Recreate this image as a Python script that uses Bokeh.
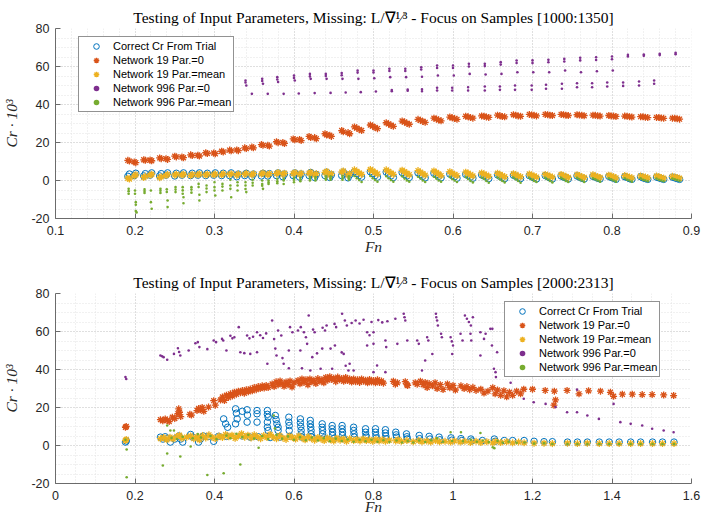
import numpy as np
from bokeh.plotting import figure
from bokeh.layouts import column
from bokeh.models import (FixedTicker, CustomJSTickFormatter, Legend, LegendItem, Range1d, Title)
from bokeh.embed import file_html
from bokeh.resources import INLINE

# MATLAB default line colours
BLUE, ORANGE, YELLOW, PURPLE, GREEN = "#0072BD", "#D95319", "#EDB120", "#7E2F8E", "#77AC30"

SERIES_NAMES = ["Correct Cr From Trial", "Network 19 Par.=0", "Network 19 Par.=mean",
                "Network 996 Par.=0", "Network 996 Par.=mean"]

# ---------------- upper panel: samples 1000:1350 ----------------
top_fn = [
    0.191, 0.193, 0.199, 0.201, 0.211, 0.213, 0.219, 0.221, 0.231, 0.233, 0.239, 0.241,
    0.250, 0.252, 0.259, 0.261, 0.270, 0.272, 0.279, 0.281, 0.289, 0.291, 0.299, 0.301,
    0.309, 0.311, 0.319, 0.321, 0.328, 0.330, 0.338, 0.340, 0.347, 0.349, 0.359, 0.361,
    0.367, 0.369, 0.378, 0.380, 0.386, 0.388, 0.399, 0.401, 0.407, 0.409, 0.419, 0.421,
    0.426, 0.428, 0.439, 0.441, 0.445, 0.447, 0.460, 0.462, 0.468, 0.470,
    0.476, 0.479, 0.482, 0.485, 0.496, 0.499, 0.502, 0.505, 0.516, 0.519, 0.522, 0.525,
    0.536, 0.539, 0.542, 0.545, 0.556, 0.559, 0.562, 0.565, 0.576, 0.579, 0.582, 0.585,
    0.596, 0.599, 0.602, 0.605, 0.616, 0.619, 0.622, 0.625, 0.636, 0.639, 0.642, 0.645,
    0.656, 0.659, 0.662, 0.665, 0.676, 0.679, 0.682, 0.685, 0.696, 0.699, 0.702, 0.705,
    0.716, 0.719, 0.722, 0.725, 0.736, 0.739, 0.742, 0.745, 0.756, 0.759, 0.762, 0.765,
    0.776, 0.779, 0.782, 0.785, 0.796, 0.799, 0.802, 0.805, 0.816, 0.819, 0.822, 0.825,
    0.836, 0.839, 0.842, 0.845, 0.856, 0.859, 0.862, 0.865, 0.876, 0.879, 0.882, 0.885,
]
top_trial = [
    2.2, 3.4, 2.6, 3.8, 2.4, 3.6, 2.8, 4.0, 2.4, 3.6, 2.8, 4.0,
    2.4, 3.8, 2.8, 4.0, 2.6, 3.8, 2.8, 4.0, 2.6, 3.8, 2.8, 4.0,
    2.6, 3.8, 2.6, 4.0, 2.0, 3.4, 2.6, 3.8, 2.0, 3.4, 2.4, 3.8,
    2.4, 3.6, 2.6, 4.0, 2.0, 3.4, 2.6, 4.0, 1.8, 3.4, 2.6, 4.2,
    1.6, 3.2, 2.6, 4.4, 1.6, 3.0, 2.6, 4.4, 1.4, 3.0,
    4.6, 3.6, 2.6, 1.8, 4.6, 3.6, 2.6, 1.8, 4.4, 3.4, 2.4, 1.6,
    4.2, 3.2, 2.4, 1.6, 4.0, 3.2, 2.2, 1.4, 3.8, 3.0, 2.2, 1.4,
    3.4, 2.6, 2.0, 1.2, 3.2, 2.6, 1.8, 1.2, 3.0, 2.4, 1.8, 1.0,
    3.0, 2.2, 1.6, 1.0, 2.8, 2.2, 1.6, 1.0, 2.6, 2.0, 1.4, 0.8,
    2.6, 2.0, 1.4, 0.8, 2.4, 1.8, 1.4, 0.8, 2.4, 1.8, 1.2, 0.8,
    2.2, 1.8, 1.2, 0.8, 2.2, 1.6, 1.2, 0.6, 2.0, 1.6, 1.0, 0.6,
    2.0, 1.4, 1.0, 0.6, 1.8, 1.4, 1.0, 0.6, 1.8, 1.4, 1.0, 0.6,
]
top_n19_zero = [
    10.6, 10.2, 9.8, 9.4, 10.9, 10.6, 10.8, 10.4, 11.9, 11.5, 11.5, 11.1,
    12.8, 12.4, 12.4, 12.0, 13.5, 13.1, 13.3, 12.9, 14.6, 14.2, 14.5, 14.1,
    15.4, 15.0, 16.0, 15.6, 16.1, 15.7, 17.2, 16.8, 17.6, 17.2, 18.9, 18.5,
    18.5, 18.1, 20.4, 19.9, 20.0, 19.5, 21.9, 21.4, 21.6, 21.0, 23.2, 22.6,
    22.6, 22.0, 24.6, 24.0, 23.8, 23.2, 26.3, 25.6, 25.2, 24.6,
    28.2, 27.6, 26.9, 26.3, 29.2, 28.6, 27.9, 27.3, 30.4, 29.8, 29.1, 28.5,
    31.3, 30.8, 30.1, 29.6, 32.2, 31.7, 31.1, 30.6, 32.8, 32.4, 31.8, 31.4,
    33.4, 33.0, 32.6, 32.2, 33.8, 33.5, 33.1, 32.8, 34.0, 33.8, 33.4, 33.2,
    34.4, 34.1, 33.7, 33.5, 34.6, 34.4, 34.0, 33.8, 34.8, 34.5, 34.3, 34.0,
    34.8, 34.6, 34.4, 34.2, 34.8, 34.6, 34.4, 34.2, 34.6, 34.5, 34.3, 34.1,
    34.4, 34.3, 34.1, 33.9, 34.2, 34.0, 33.9, 33.7, 33.9, 33.8, 33.6, 33.4,
    33.6, 33.5, 33.3, 33.1, 33.2, 33.1, 32.9, 32.7, 32.8, 32.7, 32.5, 32.3,
]
top_n19_mean = [
    1.2, 0.8, 2.4, 3.0, 1.6, 2.2, 2.8, 3.3, 1.5, 2.0, 2.6, 3.2,
    2.8, 3.3, 2.9, 3.3, 2.6, 3.2, 3.0, 3.4, 2.9, 3.3, 3.0, 3.4,
    3.0, 3.6, 3.2, 3.6, 2.8, 3.4, 3.2, 3.8, 3.0, 3.6, 3.4, 4.0,
    3.0, 3.6, 3.6, 4.2, 3.2, 3.8, 3.6, 4.2, 3.2, 3.8, 3.8, 4.4,
    2.8, 3.6, 4.2, 4.8, 2.8, 3.6, 4.4, 5.0, 2.8, 3.6,
    5.6, 4.8, 4.0, 3.2, 5.8, 5.0, 4.2, 3.4, 5.6, 4.8, 4.0, 3.2,
    5.4, 4.6, 3.8, 3.0, 5.2, 4.4, 3.6, 2.8, 5.0, 4.2, 3.4, 2.6,
    4.6, 3.8, 3.2, 2.6, 4.4, 3.8, 3.0, 2.4, 4.0, 3.4, 2.8, 2.2,
    3.8, 3.2, 2.6, 2.0, 3.6, 3.0, 2.4, 2.0, 3.4, 2.8, 2.4, 1.8,
    3.2, 2.8, 2.2, 1.8, 3.2, 2.6, 2.2, 1.6, 3.0, 2.6, 2.0, 1.6,
    3.0, 2.4, 2.0, 1.6, 2.8, 2.4, 2.0, 1.4, 2.6, 2.2, 1.8, 1.4,
    2.4, 2.0, 1.8, 1.4, 2.4, 2.0, 1.6, 1.2, 2.2, 1.8, 1.6, 1.2,
]
top_n996_zero = [
    (0.339, 52.6), (0.339, 51.6), (0.340, 50.0), (0.360, 53.5), (0.360, 52.4), (0.361, 50.9),
    (0.379, 54.4), (0.379, 53.2), (0.380, 51.8), (0.400, 55.3), (0.400, 54.0), (0.401, 52.6),
    (0.420, 56.1), (0.420, 54.8), (0.421, 53.5), (0.440, 56.1), (0.440, 55.0), (0.441, 53.5),
    (0.460, 56.6), (0.460, 55.4), (0.461, 53.5), (0.480, 57.9), (0.480, 56.8), (0.481, 53.5),
    (0.500, 57.9), (0.500, 56.8), (0.501, 53.8), (0.520, 58.8), (0.520, 57.6), (0.521, 54.4),
    (0.540, 58.8), (0.540, 57.6), (0.541, 54.4), (0.560, 59.6), (0.560, 58.4), (0.561, 54.6),
    (0.580, 60.5), (0.580, 59.2), (0.581, 55.3), (0.600, 60.5), (0.600, 59.2), (0.601, 55.3),
    (0.620, 61.4), (0.620, 60.0), (0.621, 56.1), (0.640, 61.4), (0.640, 60.2), (0.641, 55.8),
    (0.660, 62.3), (0.660, 61.0), (0.661, 56.1), (0.680, 63.2), (0.680, 61.8), (0.681, 57.0),
    (0.700, 63.2), (0.700, 61.8), (0.701, 57.0), (0.720, 63.5), (0.720, 62.2), (0.721, 57.0),
    (0.740, 64.0), (0.740, 62.6), (0.741, 57.9), (0.760, 64.6), (0.760, 63.2), (0.761, 57.0),
    (0.780, 64.9), (0.780, 63.4), (0.781, 57.5), (0.800, 65.3), (0.800, 63.8), (0.801, 57.9),
    (0.820, 66.1), (0.820, 65.3), (0.840, 66.3), (0.840, 65.6), (0.860, 66.7), (0.860, 66.0),
    (0.880, 67.2), (0.880, 66.5),
    (0.347, 45.6), (0.367, 45.6), (0.387, 45.6), (0.406, 45.8), (0.426, 46.0), (0.446, 46.1),
    (0.465, 46.3), (0.484, 46.5), (0.503, 46.8), (0.523, 47.0), (0.523, 47.6), (0.543, 47.2),
    (0.543, 47.9), (0.561, 47.0), (0.561, 48.0), (0.580, 47.4), (0.580, 48.8), (0.599, 47.4),
    (0.599, 48.8), (0.619, 47.4), (0.619, 49.1), (0.640, 47.4), (0.640, 49.5), (0.659, 47.7),
    (0.659, 49.5), (0.678, 47.7), (0.678, 50.0), (0.699, 47.7), (0.699, 50.0), (0.717, 48.3),
    (0.717, 50.4), (0.737, 48.3), (0.737, 50.9), (0.756, 49.1), (0.756, 51.2), (0.775, 49.1),
    (0.775, 51.2), (0.794, 49.5), (0.794, 51.6), (0.814, 49.8), (0.814, 51.6), (0.834, 50.0),
    (0.834, 52.1), (0.853, 50.9), (0.853, 52.6),
]
top_n996_mean = [
    (0.192, -4.4), (0.192, -5.6), (0.192, -7.0),
    (0.200, -5.3), (0.200, -7.0), (0.201, -11.4), (0.201, -12.8), (0.201, -16.1), (0.202, -16.8),
    (0.212, -4.6), (0.212, -5.6), (0.212, -6.6),
    (0.220, -5.3), (0.220, -11.4), (0.221, -14.9),
    (0.232, -4.4), (0.232, -5.4), (0.232, -6.6),
    (0.240, -4.6), (0.240, -6.0), (0.241, -10.5), (0.241, -14.0),
    (0.251, -3.5), (0.251, -4.8), (0.251, -6.1),
    (0.260, -3.5), (0.260, -5.2), (0.260, -7.0), (0.261, -8.8), (0.261, -12.0),
    (0.271, -3.5), (0.271, -4.8), (0.271, -6.4),
    (0.280, -1.8), (0.280, -3.4), (0.281, -7.5), (0.281, -10.5),
    (0.290, -2.6), (0.290, -4.2), (0.290, -6.1),
    (0.300, -0.9), (0.300, -3.5), (0.300, -5.3), (0.301, -7.9),
    (0.310, -1.8), (0.310, -3.2), (0.310, -5.3),
    (0.320, 0.4), (0.320, -2.6), (0.320, -4.4), (0.321, -8.8),
    (0.329, -0.9), (0.329, -2.6), (0.329, -5.3),
    (0.339, -0.9), (0.339, -2.6), (0.339, -4.5), (0.340, -6.1),
    (0.348, 0.4), (0.348, -1.2), (0.348, -2.6),
    (0.360, 0.0), (0.360, -1.8), (0.360, -2.8), (0.361, -4.4),
    (0.368, 0.0), (0.368, -1.0), (0.368, -1.8),
    (0.379, 0.9), (0.379, -0.4), (0.379, -1.4),
    (0.387, 0.9), (0.387, 0.0), (0.387, -1.8),
    (0.400, 1.4), (0.400, 0.4), (0.400, -0.9),
    (0.408, 1.4), (0.408, 0.4), (0.408, -0.4),
    (0.420, 1.8), (0.420, 0.9), (0.420, 0.0),
    (0.427, 1.8), (0.427, 0.9), (0.427, 0.0),
    (0.440, 2.2), (0.440, 1.2), (0.440, 0.4),
    (0.446, 2.2), (0.446, 1.2), (0.446, 0.4),
    (0.461, 2.4), (0.461, 1.4), (0.461, 0.4),
    (0.469, 2.2), (0.469, 1.2), (0.469, 0.4),
    (0.476, 2.4), (0.479, 1.2), (0.482, 0.2), (0.485, -0.8),
    (0.496, 2.4), (0.499, 1.2), (0.502, 0.2), (0.505, -0.6),
    (0.516, 2.2), (0.519, 1.2), (0.522, 0.2), (0.525, -0.6),
    (0.536, 2.2), (0.539, 1.0), (0.542, 0.0), (0.545, -0.6),
    (0.556, 2.0), (0.559, 1.0), (0.562, 0.0), (0.565, -0.8),
    (0.576, 2.0), (0.579, 1.0), (0.582, 0.0), (0.585, -0.6),
    (0.596, 1.8), (0.599, 0.8), (0.602, 0.0), (0.605, -0.8),
    (0.616, 1.8), (0.619, 0.8), (0.622, -0.2), (0.625, -1.0),
    (0.636, 1.6), (0.639, 0.8), (0.642, -0.2), (0.645, -1.2),
    (0.656, 1.6), (0.659, 0.6), (0.662, -0.2), (0.665, -1.0),
    (0.676, 1.6), (0.679, 0.6), (0.682, -0.2), (0.685, -1.2),
    (0.696, 1.4), (0.699, 0.6), (0.702, -0.2), (0.705, -0.8),
    (0.716, 1.4), (0.719, 0.6), (0.722, -0.2), (0.725, -1.0),
    (0.736, 1.4), (0.739, 0.6), (0.742, -0.2), (0.745, -0.8),
    (0.756, 1.4), (0.759, 0.6), (0.762, 0.0), (0.765, -0.8),
    (0.776, 1.2), (0.779, 0.6), (0.782, 0.0), (0.785, -0.6),
    (0.796, 1.2), (0.799, 0.6), (0.802, 0.0), (0.805, -0.6),
    (0.816, 1.2), (0.819, 0.4), (0.822, 0.0), (0.825, -0.6),
    (0.836, 1.2), (0.839, 0.4), (0.842, 0.0), (0.845, -0.4),
    (0.856, 1.0), (0.859, 0.4), (0.862, 0.0), (0.865, -0.4),
    (0.876, 1.0), (0.879, 0.6), (0.882, 0.2), (0.885, -0.2),
]

# ---------------- lower panel: samples 2000:2313 ----------------
bot_trial = [
    (0.176, 1.8), (0.178, 2.4),
    (0.264, 4.4), (0.270, 3.4), (0.276, 4.6), (0.281, 3.8), (0.289, 1.8), (0.300, 3.4),
    (0.310, 5.0), (0.315, 3.4), (0.320, 1.8), (0.340, 5.8), (0.345, 4.4), (0.360, 1.8),
    (0.365, 3.5), (0.372, 5.0), (0.385, 4.8), (0.398, 2.2), (0.410, 4.8),
    (0.423, 14.0), (0.428, 11.4), (0.433, 9.6), (0.430, 4.8),
    (0.453, 19.3), (0.455, 17.0), (0.457, 14.0), (0.453, 11.4), (0.470, 18.0), (0.482, 18.8),
    (0.483, 16.0), (0.482, 12.3), (0.470, 5.0), (0.490, 4.4),
    (0.507, 18.4), (0.507, 16.7), (0.507, 12.3), (0.510, 4.6),
    (0.533, 18.4), (0.533, 16.4), (0.535, 14.9), (0.533, 12.3), (0.533, 9.6), (0.535, 7.9), (0.540, 4.2),
    (0.553, 15.8), (0.555, 13.6), (0.557, 11.4), (0.560, 9.6), (0.560, 7.9), (0.565, 4.4),
    (0.587, 14.9), (0.587, 12.3), (0.588, 10.5), (0.588, 7.9), (0.590, 4.8),
    (0.616, 14.0), (0.616, 12.0), (0.617, 10.0), (0.618, 8.0), (0.618, 6.1), (0.620, 4.4),
    (0.641, 13.2), (0.641, 11.4), (0.642, 9.6), (0.643, 7.9), (0.643, 6.1), (0.645, 4.4),
    (0.671, 11.4), (0.671, 9.6), (0.672, 7.9), (0.672, 6.1), (0.675, 4.0),
    (0.696, 10.5), (0.696, 8.8), (0.697, 7.0), (0.697, 5.3), (0.700, 3.6),
    (0.721, 10.5), (0.721, 8.8), (0.722, 7.0), (0.722, 5.3), (0.725, 3.6),
    (0.750, 9.6), (0.750, 7.9), (0.751, 6.1), (0.752, 4.4),
    (0.780, 8.8), (0.780, 7.0), (0.781, 5.3), (0.782, 4.4),
    (0.805, 8.8), (0.805, 7.0), (0.806, 5.3), (0.807, 4.0),
    (0.830, 8.3), (0.830, 6.6), (0.831, 5.0), (0.832, 3.5),
    (0.856, 7.0), (0.857, 5.6), (0.858, 4.4), (0.883, 6.1), (0.884, 4.6), (0.885, 3.5),
    (0.915, 5.3), (0.916, 3.6), (0.940, 4.8), (0.942, 3.4), (0.965, 4.4), (0.967, 3.0),
    (0.995, 4.0), (0.997, 2.8), (1.020, 3.6), (1.022, 2.6), (1.045, 3.4), (1.047, 2.4),
    (1.074, 2.6), (1.104, 3.4), (1.106, 2.2), (1.129, 2.6), (1.150, 2.6), (1.179, 2.6),
    (1.204, 2.2), (1.229, 2.0), (1.250, 2.0), (1.288, 1.8), (1.313, 1.8), (1.338, 1.8),
    (1.368, 1.8), (1.393, 1.8), (1.418, 1.8), (1.447, 1.8), (1.472, 1.8), (1.502, 1.8),
    (1.527, 1.8), (1.556, 1.8),
]
bot_n19_zero = [
    (0.176, 9.6), (0.178, 10.0),
    (0.264, 13.6), (0.270, 13.0), (0.276, 14.0), (0.281, 13.2), (0.286, 12.6), (0.294, 14.9), (0.300, 14.2),
    (0.308, 16.7), (0.310, 19.3), (0.312, 17.5), (0.315, 15.2), (0.338, 16.4), (0.342, 16.0),
    (0.356, 18.4), (0.360, 19.5), (0.365, 18.8), (0.369, 20.0), (0.373, 18.0), (0.385, 20.2),
    (0.398, 23.6), (0.402, 21.2),
    (0.415, 24.0), (0.420, 25.5), (0.425, 23.7), (0.430, 26.5), (0.435, 25.2), (0.440, 27.2),
    (0.445, 26.0), (0.450, 28.0), (0.455, 27.0), (0.460, 28.6), (0.465, 27.8), (0.470, 29.0),
    (0.475, 27.5), (0.480, 29.4), (0.485, 28.3), (0.490, 29.8), (0.495, 28.8),
    (0.500, 30.5), (0.505, 29.4), (0.510, 31.0), (0.515, 30.0), (0.520, 31.4), (0.525, 30.2),
    (0.530, 31.6), (0.535, 30.5),
    (0.545, 32.4), (0.550, 31.0), (0.555, 33.5), (0.560, 32.0), (0.565, 34.0), (0.570, 32.6),
    (0.575, 31.2), (0.580, 33.4), (0.585, 32.0), (0.590, 34.0), (0.595, 30.8), (0.600, 33.0),
    (0.610, 34.2), (0.615, 32.5), (0.620, 35.0), (0.625, 33.2), (0.630, 34.6), (0.635, 32.0),
    (0.640, 35.0), (0.645, 33.5), (0.650, 34.4), (0.655, 32.6), (0.660, 35.2), (0.665, 33.8),
    (0.670, 34.6), (0.675, 33.0),
    (0.680, 35.8), (0.685, 34.4), (0.690, 36.2), (0.695, 34.8), (0.700, 35.4), (0.705, 33.6),
    (0.710, 36.0), (0.715, 34.6), (0.720, 35.2), (0.725, 33.8), (0.730, 35.8), (0.735, 34.2),
    (0.740, 35.0), (0.745, 33.4),
    (0.750, 35.0), (0.755, 33.6), (0.760, 34.6), (0.765, 33.2), (0.770, 35.0), (0.775, 33.8),
    (0.780, 34.4), (0.785, 33.0), (0.790, 34.8), (0.795, 33.4), (0.800, 34.2), (0.805, 33.0),
    (0.810, 34.6), (0.815, 33.2), (0.820, 34.0), (0.825, 32.8),
    (0.850, 33.8), (0.855, 32.2), (0.860, 33.0), (0.880, 33.6), (0.884, 32.0), (0.886, 31.6),
    (0.905, 33.0), (0.910, 32.2),
    (0.918, 33.8), (0.925, 32.0), (0.930, 33.2), (0.935, 30.5), (0.940, 32.6), (0.948, 31.4),
    (0.955, 33.0), (0.960, 30.0), (0.968, 32.0), (0.975, 29.5),
    (0.986, 32.4), (0.992, 30.4), (1.000, 31.6), (1.006, 29.2),
    (1.020, 31.4), (1.028, 30.0), (1.035, 31.0), (1.042, 29.4), (1.050, 30.6), (1.058, 29.0),
    (1.070, 29.6), (1.078, 27.6), (1.088, 28.6),
    (1.100, 30.4), (1.106, 27.2), (1.112, 29.2), (1.120, 26.4), (1.128, 28.8), (1.135, 25.6),
    (1.142, 28.0), (1.150, 26.4), (1.160, 28.6), (1.170, 27.2), (1.178, 29.6),
    (1.200, 29.6), (1.232, 29.0), (1.254, 21.2), (1.255, 28.6), (1.258, 24.0), (1.287, 29.0),
    (1.317, 27.2), (1.341, 28.8), (1.371, 28.6), (1.396, 28.0), (1.404, 25.9),
    (1.426, 27.0), (1.451, 27.0), (1.476, 26.8), (1.501, 26.8), (1.530, 26.6), (1.555, 26.3),
]
bot_n19_mean = [
    (0.176, 2.6), (0.178, 3.2),
    (0.264, 3.6), (0.272, 4.2), (0.280, 3.0), (0.288, 4.4), (0.296, 3.4), (0.305, 4.8),
    (0.312, 5.4), (0.318, 3.8), (0.330, 4.4), (0.340, 5.0), (0.348, 3.6), (0.356, 4.6),
    (0.362, 3.0), (0.370, 5.2), (0.378, 4.0), (0.386, 5.6), (0.394, 4.4), (0.402, 3.6),
    (0.412, 5.0), (0.420, 4.2), (0.428, 5.8), (0.436, 4.6), (0.444, 5.4), (0.452, 3.8),
    (0.460, 5.0), (0.468, 6.2), (0.476, 4.4), (0.484, 5.4), (0.492, 4.0), (0.500, 5.6),
    (0.508, 4.6), (0.516, 3.6), (0.524, 5.2), (0.532, 4.2), (0.540, 5.8), (0.548, 4.4),
    (0.556, 3.6), (0.564, 5.2), (0.572, 4.0), (0.580, 3.2), (0.588, 5.0), (0.596, 4.2),
    (0.604, 3.4), (0.612, 5.0), (0.620, 4.0), (0.628, 3.0), (0.636, 4.6), (0.644, 3.6),
    (0.652, 2.8), (0.660, 4.2), (0.668, 3.4), (0.676, 2.6), (0.684, 4.0), (0.692, 3.0),
    (0.700, 2.4), (0.708, 3.8), (0.716, 2.8), (0.724, 3.4), (0.732, 2.2), (0.740, 3.6),
    (0.750, 2.6), (0.758, 3.2), (0.766, 2.4), (0.774, 3.4), (0.782, 2.6), (0.790, 3.0),
    (0.798, 2.2), (0.806, 3.2), (0.814, 2.4), (0.822, 3.0), (0.830, 2.2), (0.840, 2.8),
    (0.856, 2.4), (0.862, 3.0), (0.870, 2.2), (0.884, 2.6), (0.900, 2.0), (0.914, 2.6),
    (0.922, 2.0), (0.934, 2.4), (0.944, 1.8), (0.956, 2.6), (0.966, 2.0), (0.980, 2.2),
    (0.994, 1.8), (1.004, 2.4), (1.018, 1.8), (1.030, 2.2), (1.044, 1.6), (1.058, 2.2),
    (1.070, 1.6), (1.085, 2.0), (1.100, 1.4), (1.108, 2.2), (1.120, 1.6), (1.135, 2.0),
    (1.150, 1.4), (1.165, 1.8), (1.179, 1.4), (1.204, 1.2), (1.229, 1.2), (1.250, 1.0),
    (1.288, 1.2), (1.313, 1.0), (1.338, 1.2), (1.368, 1.0), (1.393, 1.0), (1.418, 1.0),
    (1.447, 1.0), (1.472, 1.0), (1.502, 1.0), (1.527, 1.0), (1.556, 1.0),
]
bot_n996_zero = [
    (0.176, 36.0), (0.178, 35.0),
    (0.264, 47.4), (0.268, 47.0), (0.272, 46.5), (0.281, 45.1), (0.298, 48.2), (0.308, 51.2),
    (0.311, 49.2), (0.314, 47.4), (0.335, 50.0), (0.352, 53.8), (0.358, 54.4), (0.362, 51.8),
    (0.382, 50.7), (0.398, 55.3), (0.404, 54.4), (0.419, 56.1), (0.422, 55.3), (0.430, 50.0),
    (0.440, 57.8), (0.445, 56.4), (0.450, 57.0), (0.461, 62.3), (0.465, 49.1), (0.475, 48.6),
    (0.482, 57.9), (0.488, 56.4), (0.490, 48.2), (0.497, 57.2), (0.507, 59.6), (0.507, 49.1),
    (0.515, 58.0), (0.522, 56.6), (0.530, 59.0), (0.533, 43.0), (0.545, 65.8), (0.550, 56.0),
    (0.553, 51.0), (0.556, 47.4), (0.560, 60.5), (0.568, 57.9), (0.571, 46.0), (0.574, 43.0),
    (0.587, 40.7), (0.587, 50.0), (0.590, 62.3), (0.596, 59.6), (0.610, 60.5), (0.617, 62.3),
    (0.616, 50.0), (0.620, 40.7), (0.625, 59.6), (0.630, 57.0), (0.633, 53.5), (0.637, 68.4),
    (0.641, 39.5), (0.646, 46.5), (0.648, 61.0), (0.652, 59.6), (0.658, 48.5), (0.667, 40.4),
    (0.671, 51.0), (0.672, 62.0), (0.678, 60.5), (0.682, 63.2), (0.692, 51.0), (0.696, 40.4),
    (0.702, 64.0), (0.706, 62.3), (0.703, 52.6), (0.721, 69.3), (0.720, 49.0), (0.725, 48.2),
    (0.728, 65.8), (0.733, 63.2), (0.730, 42.0), (0.737, 39.5), (0.740, 43.0), (0.745, 64.5),
    (0.750, 39.5), (0.755, 65.8), (0.765, 64.2), (0.775, 66.2), (0.784, 59.6), (0.784, 52.6),
    (0.790, 58.0), (0.795, 65.0), (0.800, 53.5), (0.800, 38.6), (0.800, 59.6), (0.809, 42.1),
    (0.812, 66.0), (0.822, 64.8), (0.830, 55.3), (0.832, 51.8), (0.830, 38.6), (0.835, 65.4),
    (0.855, 66.7), (0.860, 53.5), (0.876, 69.3), (0.878, 67.5), (0.880, 65.8), (0.885, 55.3),
    (0.910, 55.3), (0.914, 53.5), (0.922, 39.5), (0.930, 44.7), (0.935, 57.0), (0.938, 55.3),
    (0.948, 48.2), (0.957, 69.3), (0.958, 67.5), (0.960, 65.8), (0.962, 63.2), (0.970, 58.8),
    (0.972, 57.0), (0.994, 57.0), (0.997, 54.8), (1.000, 52.6), (0.998, 48.2), (1.019, 58.8),
    (1.024, 55.3), (1.030, 68.4), (1.035, 66.7), (1.040, 65.0), (1.045, 63.2), (1.044, 58.8),
    (1.046, 55.3), (1.050, 67.5), (1.069, 59.6), (1.069, 47.4), (1.078, 56.1), (1.082, 58.8),
    (1.094, 61.4), (1.098, 52.6), (1.099, 61.4), (1.103, 40.4), (1.107, 38.6), (1.108, 36.0),
    (1.111, 49.1), (1.145, 33.0), (1.178, 24.6), (1.203, 22.8), (1.233, 21.9), (1.258, 20.2),
    (1.287, 17.5), (1.312, 29.4), (1.312, 17.5), (1.338, 15.8), (1.367, 14.0), (1.404, 21.9),
    (1.421, 12.3), (1.447, 11.4), (1.476, 10.5), (1.501, 8.8), (1.530, 7.9), (1.555, 7.0),
]
bot_n996_mean = [
    (0.176, 3.0), (0.179, -2.1), (0.179, -16.7),
    (0.270, -10.5), (0.281, 10.5), (0.281, -4.2), (0.289, 7.9), (0.292, 4.0), (0.298, 7.9),
    (0.305, 3.4), (0.314, -5.8), (0.320, 4.6), (0.340, -0.5), (0.345, 3.8), (0.358, 6.0),
    (0.366, 4.2), (0.382, -15.5), (0.390, 5.0), (0.405, 3.4), (0.423, -14.6), (0.430, 5.2),
    (0.440, 3.8), (0.455, 6.2), (0.465, -10.0), (0.470, 4.4), (0.485, 5.6), (0.500, 3.6),
    (0.511, -1.2), (0.520, 5.0), (0.535, 3.4), (0.549, 15.8), (0.552, 9.0), (0.556, 5.6),
    (0.570, 3.6), (0.585, 4.8), (0.600, 3.0), (0.615, 4.4), (0.630, 2.8), (0.645, 4.2),
    (0.660, 2.6), (0.675, 3.8), (0.690, 2.2), (0.705, 3.6), (0.720, 2.4), (0.735, 3.2),
    (0.750, 2.0), (0.765, 3.0), (0.780, 2.2), (0.795, 3.0), (0.810, 2.0), (0.825, 2.8),
    (0.840, 1.8), (0.858, 2.6), (0.872, 1.6), (0.886, 2.4), (0.900, 1.6), (0.915, 2.6),
    (0.930, 1.8), (0.945, 2.8), (0.960, 3.8), (0.975, 2.0), (0.994, 7.0), (0.998, 2.4),
    (1.020, 7.0), (1.025, 2.2), (1.045, 3.0), (1.060, 2.0), (1.069, 6.6), (1.075, 2.6),
    (1.090, 1.8), (1.100, -0.9), (1.104, -1.4), (1.112, 2.4), (1.125, 1.6), (1.140, 2.0),
    (1.160, 1.4), (1.180, 1.6), (1.204, 1.0), (1.229, 1.2), (1.250, 0.8), (1.288, 0.8),
    (1.313, 0.8), (1.338, 0.8), (1.368, 0.8), (1.393, 0.8), (1.418, 0.8), (1.447, 0.8),
    (1.472, 0.8), (1.502, 0.8), (1.527, 0.8), (1.556, 0.8),
]

Y_TICKS = [-20, 0, 20, 40, 60, 80]
TOP_X_TICKS = [0.1, 0.2, 0.3, 0.4, 0.5, 0.6, 0.7, 0.8, 0.9]
BOT_X_TICKS = [0, 0.2, 0.4, 0.6, 0.8, 1, 1.2, 1.4, 1.6]

SERIF = "Liberation Serif"
SANS = "Liberation Sans"
INK = "#262626"
TITLE = "Testing of Input Parameters, Missing: L/\u2207\u00b9\u2044\u00b3 - Focus on Samples "


def unzip(pairs):
    return [a for a, _ in pairs], [b for _, b in pairs]


def chart(samples, x_lo, x_hi, x_ticks, x_minor, series, top, bottom,
          title_standoff, xlabel_standoff, legend_loc):
    p = figure(width=704, height=260, output_backend="svg", toolbar_location=None,
               x_range=Range1d(x_lo, x_hi), y_range=Range1d(-20, 80), title=None,
               min_border_left=55, min_border_right=13,
               min_border_top=top, min_border_bottom=bottom)
    p.outline_line_color = None
    p.background_fill_color = "white"
    p.border_fill_color = "white"

    p.add_layout(Title(text=TITLE + samples, align="center", text_font=SERIF,
                       text_font_size="15.5px", text_font_style="normal",
                       text_color="#000000", standoff=title_standoff), "above")

    fmt = CustomJSTickFormatter(code="return String(tick);")
    p.xaxis.ticker = FixedTicker(ticks=x_ticks, minor_ticks=x_minor)
    p.yaxis.ticker = FixedTicker(ticks=Y_TICKS, minor_ticks=list(range(-20, 81, 5)))
    for ax in (p.xaxis[0], p.yaxis[0]):
        ax.formatter = fmt
        ax.axis_line_color = "#6b6b6b"
        ax.major_tick_line_color = "#6b6b6b"
        ax.major_tick_in = 5
        ax.major_tick_out = 0
        ax.minor_tick_line_color = None
        ax.major_label_text_font = SANS
        ax.major_label_text_font_size = "12.5px"
        ax.major_label_text_color = INK
        ax.axis_label_text_font = SERIF
        ax.axis_label_text_font_style = "italic"
        ax.axis_label_text_font_size = "15.5px"
        ax.axis_label_text_color = INK
    xa, ya = p.xaxis[0], p.yaxis[0]
    xa.axis_label = "Fn"
    xa.major_label_standoff = 3
    xa.axis_label_standoff = xlabel_standoff
    ya.axis_label = "Cr \u00b7 10\u00b3"
    ya.major_label_standoff = 2
    ya.axis_label_standoff = 8

    for g in (p.xgrid[0], p.ygrid[0]):
        g.grid_line_color = "#cdcdcd"
        g.grid_line_dash = "1 2"
        g.minor_grid_line_color = "#e2e2e2"
        g.minor_grid_line_dash = "1 2"

    (fx0, y0), (fx1, y1), (fx2, y2), (fx3, y3), (fx4, y4) = series
    r0 = p.scatter(fx0, y0, marker="circle", size=6.5, fill_color=None,
                   line_color=BLUE, line_width=1)
    r1 = p.scatter(fx1, y1, marker="asterisk", size=7, line_color=ORANGE, line_width=1.3)
    r2 = p.scatter(fx2, y2, marker="asterisk", size=7, line_color=YELLOW, line_width=1.3)
    r3 = p.scatter(fx3, y3, marker="circle", size=2.6, fill_color=PURPLE, line_color=None)
    r4 = p.scatter(fx4, y4, marker="circle", size=2.6, fill_color=GREEN, line_color=None)

    legend = Legend(items=[LegendItem(label=n, renderers=[r])
                           for n, r in zip(SERIES_NAMES, (r0, r1, r2, r3, r4))],
                    location=legend_loc, orientation="vertical",
                    label_text_font=SANS, label_text_font_size="11px",
                    label_text_color="#000000", glyph_width=30, glyph_height=14,
                    label_height=14, label_standoff=2, spacing=0, padding=2, margin=0,
                    border_line_color=INK, border_line_width=1,
                    background_fill_color="white", background_fill_alpha=1)
    p.add_layout(legend)
    return p


top_series = [
    (top_fn, top_trial), (top_fn, top_n19_zero), (top_fn, top_n19_mean),
    unzip(top_n996_zero), unzip(top_n996_mean),
]
bot_series = [unzip(bot_trial), unzip(bot_n19_zero), unzip(bot_n19_mean),
              unzip(bot_n996_zero), unzip(bot_n996_mean)]

p_top = chart("[1000:1350]", 0.1, 0.9, TOP_X_TICKS, list(np.arange(0.1, 0.9001, 0.02)),
              top_series, top=28, bottom=42, title_standoff=6, xlabel_standoff=0,
              legend_loc=(23, 106))
p_bot = chart("[2000:2313]", 0, 1.6, BOT_X_TICKS, list(np.arange(0, 1.6001, 0.05)),
              bot_series, top=33, bottom=37, title_standoff=5, xlabel_standoff=-5,
              legend_loc=(449, 106))

layout = column(p_top, p_bot, spacing=0)
open("out.html", "w").write(file_html(layout, INLINE))
